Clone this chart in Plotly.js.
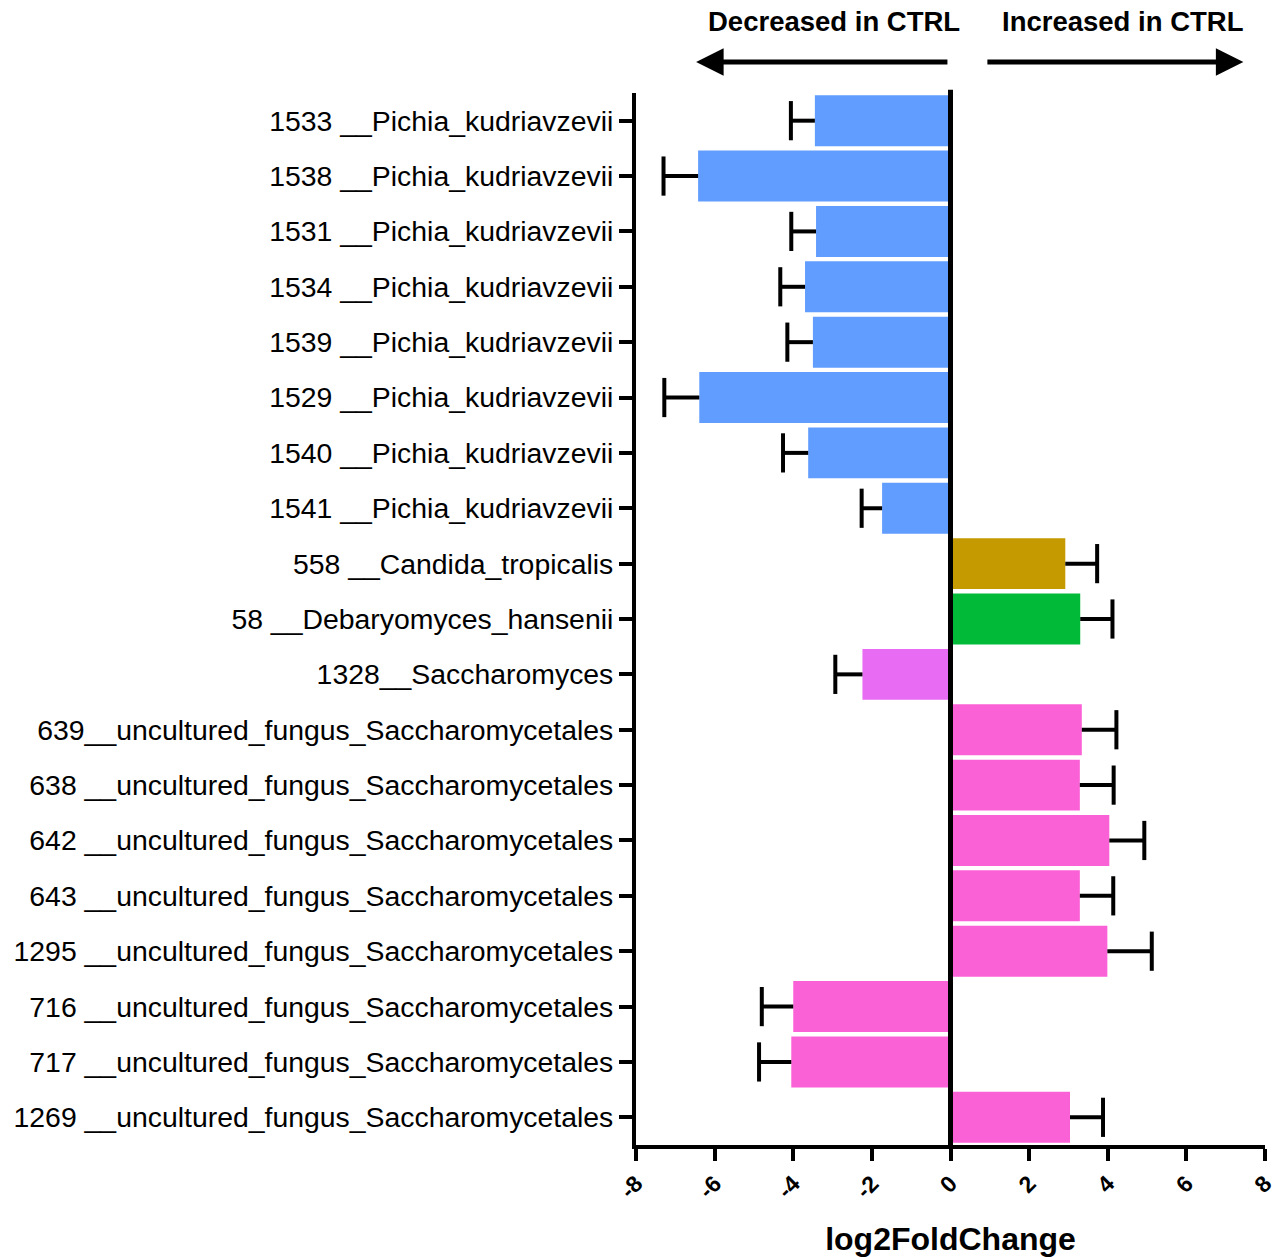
<!DOCTYPE html>
<html>
<head>
<meta charset="utf-8">
<script src="https://cdn.plot.ly/plotly-3.0.1.min.js"></script>
<style>
  html, body { margin: 0; padding: 0; background: #ffffff; }
  #chart { width: 1276px; height: 1257px; }
</style>
</head>
<body>
<div id="chart"></div>
<script>
// ---- Data (top to bottom) ----
var taxa = [
  "1533 __Pichia_kudriavzevii",
  "1538 __Pichia_kudriavzevii",
  "1531 __Pichia_kudriavzevii",
  "1534 __Pichia_kudriavzevii",
  "1539 __Pichia_kudriavzevii",
  "1529 __Pichia_kudriavzevii",
  "1540 __Pichia_kudriavzevii",
  "1541 __Pichia_kudriavzevii",
  "558 __Candida_tropicalis",
  "58 __Debaryomyces_hansenii",
  "1328__Saccharomyces",
  "639__uncultured_fungus_Saccharomycetales",
  "638 __uncultured_fungus_Saccharomycetales",
  "642 __uncultured_fungus_Saccharomycetales",
  "643 __uncultured_fungus_Saccharomycetales",
  "1295 __uncultured_fungus_Saccharomycetales",
  "716 __uncultured_fungus_Saccharomycetales",
  "717 __uncultured_fungus_Saccharomycetales",
  "1269 __uncultured_fungus_Saccharomycetales"
];
var log2FoldChange = [-3.45, -6.42, -3.42, -3.70, -3.50, -6.39, -3.62, -1.74,
                      2.92, 3.30, -2.24,
                      3.34, 3.29, 4.04, 3.29, 3.99, -4.00, -4.05, 3.04];
var lfcSE = [0.61, 0.88, 0.63, 0.63, 0.65, 0.89, 0.64, 0.52,
             0.81, 0.82, 0.69,
             0.88, 0.86, 0.89, 0.85, 1.13, 0.80, 0.82, 0.84];
var genus = ["Pichia","Pichia","Pichia","Pichia","Pichia","Pichia","Pichia","Pichia",
             "Candida","Debaryomyces","Saccharomyces",
             "uncultured","uncultured","uncultured","uncultured","uncultured","uncultured","uncultured","uncultured"];
var genusColors = {
  "Pichia": "#619CFF",
  "Candida": "#C49A00",
  "Debaryomyces": "#00BA38",
  "Saccharomyces": "#E76BF3",
  "uncultured": "#FB61D7"
};
var xTickVals = [-8, -6, -4, -2, 0, 2, 4, 6, 8];
var xTickText = ["-8", "-6", "-4", "-2", "0", "2", "4", "6", "8"];

// one-sided error bars (outward side only), built from the data arrays
var barColors = genus.map(function (g) { return genusColors[g]; });
var errEnd = log2FoldChange.map(function (v, i) { return v >= 0 ? v + lfcSE[i] : v - lfcSE[i]; });
var whiskX = [], whiskY = [];
log2FoldChange.forEach(function (v, i) {
  whiskX.push(v, errEnd[i], null);
  whiskY.push(taxa[i], taxa[i], null);
});

var FONT = "Liberation Sans, Arial, Helvetica, sans-serif";

var bars = {
  type: "bar",
  orientation: "h",
  x: log2FoldChange,
  y: taxa,
  marker: { color: barColors, line: { width: 0 } },
  hoverinfo: "x+y"
};
var whiskers = {
  type: "scatter",
  mode: "lines",
  x: whiskX,
  y: whiskY,
  line: { color: "#000000", width: 4 },
  connectgaps: false,
  hoverinfo: "skip",
  cliponaxis: false
};
var caps = {
  type: "scatter",
  mode: "markers",
  x: errEnd,
  y: taxa,
  marker: { symbol: "line-ns", size: 28, color: "#000000", line: { color: "#000000", width: 4 } },
  hoverinfo: "skip",
  cliponaxis: false
};

var layout = {
  width: 1276,
  height: 1257,
  margin: { l: 636, r: 11, t: 93, b: 112 },
  paper_bgcolor: "#ffffff",
  plot_bgcolor: "#ffffff",
  showlegend: false,
  bargap: 0.08,
  font: { family: FONT, color: "#000000" },
  xaxis: {
    range: [-8, 8],
    tickmode: "array",
    tickvals: xTickVals,
    ticktext: xTickText,
    tickangle: -45,
    ticklabeloverflow: "allow",
    ticks: "outside",
    ticklen: 12,
    tickwidth: 4,
    tickcolor: "#000000",
    showline: true,
    linewidth: 4,
    linecolor: "#000000",
    showgrid: false,
    zeroline: false,
    tickfont: { family: FONT, size: 23, color: "#000000", weight: "bold" },
    title: {
      text: "<b>log2FoldChange</b>",
      font: { family: FONT, size: 32, color: "#000000" },
      standoff: 28
    }
  },
  yaxis: {
    type: "category",
    range: [taxa.length - 0.5, -0.5],
    autorange: false,
    ticks: "outside",
    ticklen: 13,
    tickwidth: 4,
    tickcolor: "#000000",
    showline: true,
    linewidth: 4,
    linecolor: "#000000",
    showgrid: false,
    zeroline: false,
    tickfont: { family: FONT, size: 28.4, color: "#000000" }
  },
  shapes: [
    {
      type: "line", layer: "above",
      xref: "x", x0: 0, x1: 0,
      yref: "paper", y0: 0, y1: 1.003,
      line: { color: "#000000", width: 5 }
    }
  ],
  annotations: [
    {
      text: "<b>Decreased in CTRL</b>",
      xref: "paper", yref: "paper", x: 0.314, y: 1.0675,
      xanchor: "center", yanchor: "middle", showarrow: false,
      font: { family: FONT, size: 27.5, color: "#000000" }
    },
    {
      text: "<b>Increased in CTRL</b>",
      xref: "paper", yref: "paper", x: 0.774, y: 1.0675,
      xanchor: "center", yanchor: "middle", showarrow: false,
      font: { family: FONT, size: 27.5, color: "#000000" }
    },
    {
      text: "",
      xref: "x", yref: "paper", x: -6.47, y: 1.0295,
      axref: "x", ax: -0.04, ayref: "pixel", ay: 0,
      showarrow: true, arrowhead: 2, arrowsize: 1.1, arrowwidth: 5, arrowcolor: "#000000"
    },
    {
      text: "",
      xref: "x", yref: "paper", x: 7.45, y: 1.0295,
      axref: "x", ax: 0.90, ayref: "pixel", ay: 0,
      showarrow: true, arrowhead: 2, arrowsize: 1.1, arrowwidth: 5, arrowcolor: "#000000"
    }
  ]
};

Plotly.newPlot("chart", [bars, whiskers, caps], layout, { displayModeBar: false, staticPlot: true });
</script>
</body>
</html>
